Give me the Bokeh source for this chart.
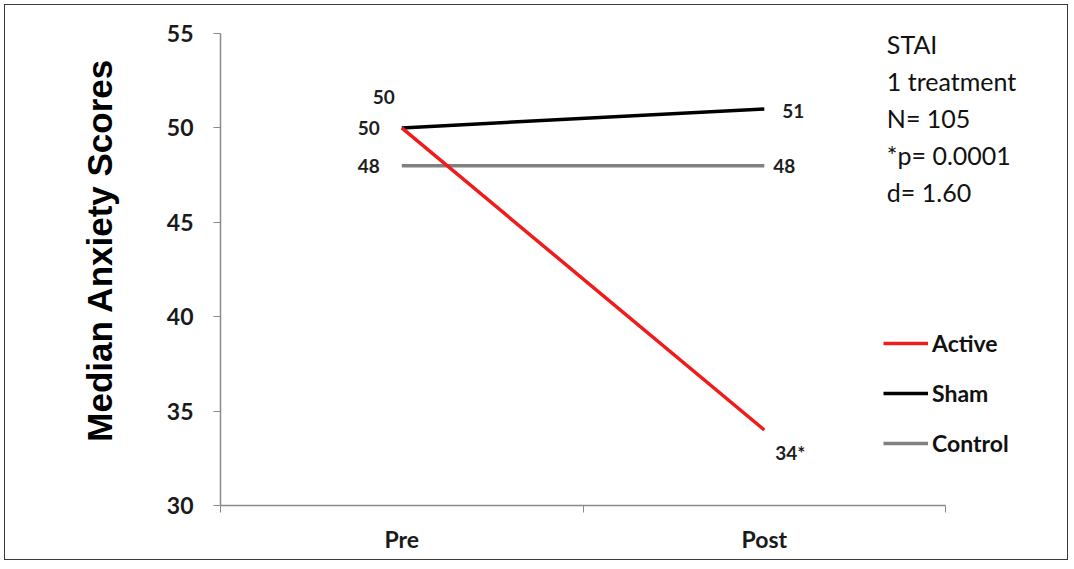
from bokeh.plotting import figure
from bokeh.models import Range1d, FixedTicker, Legend, LegendItem, ColumnDataSource
from bokeh.core.properties import value
from bokeh.embed import file_html
from bokeh.resources import INLINE

# ---- data ----
categories = ["Pre", "Post"]
series_names = ["Active", "Sham", "Control"]
active = [50, 34]
sham = [50, 51]
control = [48, 48]
active_labels = ["50", "34*"]
sham_labels = ["50", "51"]
control_labels = ["48", "48"]
y_ticks = [30, 35, 40, 45, 50, 55]
y_title = "Median Anxiety Scores"
stats_lines = ["STAI", "1 treatment", "N= 105", "*p= 0.0001", "d= 1.60"]

# ---- styles ----
colors = {"Active": "#ee1c1c", "Sham": "#000000", "Control": "#808080"}
axis_col = "#8a8a8a"
FONT = "Lato"

n_cat = len(categories)
xc = [i + 0.5 for i in range(n_cat)]
boundaries = list(range(n_cat + 1))

p = figure(width=1064, height=556, title=None,
           x_range=Range1d(0, n_cat * 1.164), y_range=Range1d(y_ticks[0], y_ticks[-1]),
           output_backend="svg", toolbar_location=None,
           min_border_left=215, min_border_right=5, min_border_top=28, min_border_bottom=56)
p.outline_line_color = None
p.xgrid.visible = False
p.ygrid.visible = False
p.background_fill_color = "white"
p.border_fill_color = "white"
p.styles = {"border": "1px solid #3c3c3c", "margin-left": "4px", "margin-top": "4px"}

# y axis
p.yaxis.ticker = FixedTicker(ticks=y_ticks)
p.yaxis.axis_line_color = axis_col
p.yaxis.axis_line_width = 1.5
p.yaxis.major_tick_line_color = axis_col
p.yaxis.major_tick_in = 0
p.yaxis.major_tick_out = 7
p.yaxis.minor_tick_line_color = None
p.yaxis.major_label_text_font = FONT
p.yaxis.major_label_text_font_style = "bold"
p.yaxis.major_label_text_font_size = "23px"
p.yaxis.major_label_text_color = "#1a1a1a"
p.yaxis.major_label_standoff = 20
# leading no-break spaces lift the centred title slightly, as in the original
p.yaxis.axis_label = "\u00a0" * 4 + y_title
p.yaxis.axis_label_text_font = "Liberation Sans"
p.yaxis.axis_label_text_font_style = "bold"
p.yaxis.axis_label_text_font_size = "35px"
p.yaxis.axis_label_text_color = "#000000"
p.yaxis.axis_label_standoff = 45

# x axis: labels at category centres, tick marks at category boundaries
p.xaxis.bounds = (0, n_cat)
p.xaxis.ticker = FixedTicker(ticks=xc, minor_ticks=boundaries)
p.xaxis.major_label_overrides = {xc[i]: categories[i] for i in range(n_cat)}
p.xaxis.axis_line_color = axis_col
p.xaxis.axis_line_width = 1.5
p.xaxis.major_tick_line_color = None
p.xaxis.major_tick_in = 0
p.xaxis.major_tick_out = 0
p.xaxis.minor_tick_line_color = axis_col
p.xaxis.minor_tick_in = 0
p.xaxis.minor_tick_out = 7
p.xaxis.major_label_text_font = FONT
p.xaxis.major_label_text_font_style = "bold"
p.xaxis.major_label_text_font_size = "23px"
p.xaxis.major_label_text_color = "#1a1a1a"
p.xaxis.major_label_standoff = 12

# lines
series = {"Active": active, "Sham": sham, "Control": control}
renderers = {}
for name in ["Control", "Sham", "Active"]:
    renderers[name] = p.line(xc, series[name], line_color=colors[name], line_width=3.5)

# point labels
lab_x, lab_y, lab_t = [], [], []
for vals, labs in [(active, active_labels), (sham, sham_labels), (control, control_labels)]:
    for i in range(n_cat):
        lab_x.append(xc[i]); lab_y.append(vals[i]); lab_t.append(labs[i])
lab_dx = [-18, 11, -22, 18, -22, 9]
lab_dy = [-31, 23, 0, 2, 0, 0]
lab_al = ["center", "left", "right", "left", "right", "left"]
src = ColumnDataSource(dict(x=lab_x, y=lab_y, t=lab_t, dx=lab_dx, dy=lab_dy, al=lab_al))
p.text(x="x", y="y", text="t", x_offset="dx", y_offset="dy", text_align="al",
       text_baseline="middle", source=src, text_font=value(FONT), text_font_style="bold",
       text_font_size="19px", text_color="#1e1e1e")

# stats annotation
st_src = ColumnDataSource(dict(x=[1.838] * len(stats_lines), y=[y_ticks[-1]] * len(stats_lines),
                               t=stats_lines, dy=[10 + 37 * i for i in range(len(stats_lines))]))
p.text(x="x", y="y", text="t", y_offset="dy", source=st_src, text_align="left",
       text_baseline="middle", text_font=value(FONT), text_font_size="25px", text_color="#111111")

# legend
legend = Legend(items=[LegendItem(label=n, renderers=[renderers[n]]) for n in series_names],
                location=(663, 48), orientation="vertical",
                glyph_width=45, glyph_height=28, label_height=28, spacing=22,
                padding=0, margin=0, label_standoff=4,
                border_line_color=None, background_fill_alpha=0,
                label_text_font=FONT, label_text_font_style="bold",
                label_text_font_size="23px", label_text_color="#111111")
p.add_layout(legend)

open("out.html", "w").write(file_html(p, INLINE))
